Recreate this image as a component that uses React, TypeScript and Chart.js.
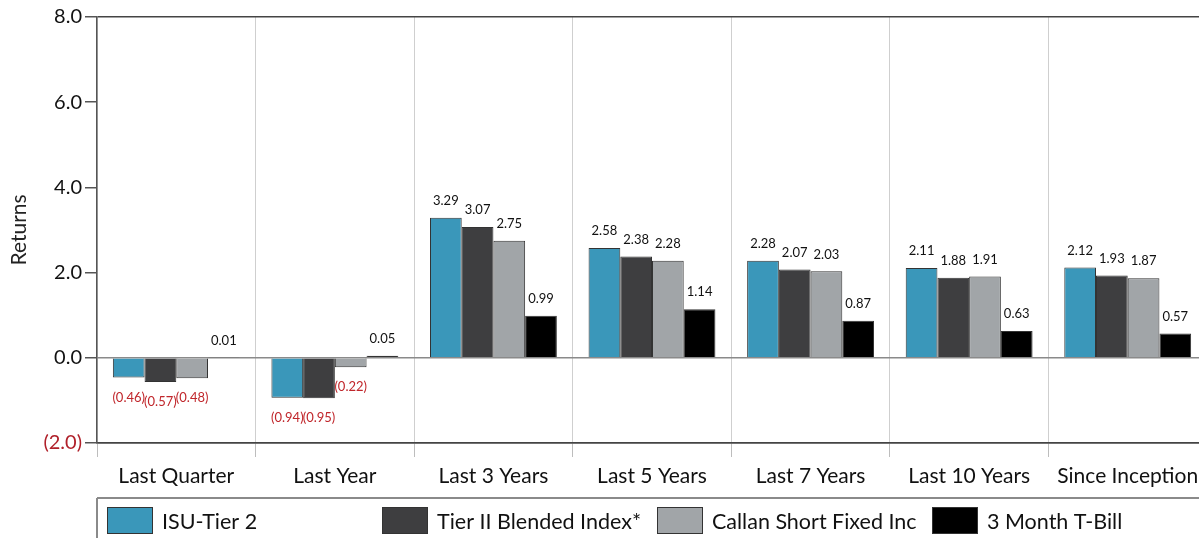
import React, { useEffect, useRef } from "react";
import { Chart, registerables } from "chart.js";

Chart.register(...registerables);

const categories = ["Last Quarter", "Last Year", "Last 3 Years", "Last 5 Years", "Last 7 Years", "Last 10 Years", "Since Inception"];
const seriesNames = ["ISU-Tier 2", "Tier II Blended Index*", "Callan Short Fixed Inc", "3 Month T-Bill"];
const isuTier2 = [-0.46, -0.94, 3.29, 2.58, 2.28, 2.11, 2.12];
const tier2Blended = [-0.57, -0.95, 3.07, 2.38, 2.07, 1.88, 1.93];
const callanShort = [-0.48, -0.22, 2.75, 2.28, 2.03, 1.91, 1.87];
const tBill = [0.01, 0.05, 0.99, 1.14, 0.87, 0.63, 0.57];
const seriesColors = ["#3a97ba", "#3e3e40", "#a1a5a8", "#000000"];
const yMin = -2;
const yMax = 8;
const yStep = 2;

// legend layout (pixels)
const legendStartX = 107;
const legendSpacing = 275;
const legendSwatchW = 46;
const FONT = "Lato, 'Open Sans', sans-serif";

const fmt = (v: number, d: number) => (v < 0 ? `(${Math.abs(v).toFixed(d)})` : v.toFixed(d));

export default function App() {
  const ref = useRef<HTMLCanvasElement | null>(null);
  useEffect(() => {
    document.body.style.margin = "0";
    document.body.style.overflow = "hidden";
    const canvas = ref.current!;
    const labelPlugin = {
      id: "barLabels",
      afterDatasetsDraw(chart: any) {
        const ctx = chart.ctx;
        ctx.save();
        ctx.font = `13px ${FONT}`;
        ctx.textAlign = "center";
        ctx.textBaseline = "middle";
        chart.data.datasets.forEach((ds: any, di: number) => {
          const meta = chart.getDatasetMeta(di);
          meta.data.forEach((el: any, i: number) => {
            const v = ds.data[i] as number;
            if (v < 0) {
              ctx.fillStyle = "#c0262b";
              ctx.fillText(fmt(v, 2), el.x, el.y + 20);
            } else {
              ctx.fillStyle = "#111";
              ctx.fillText(fmt(v, 2), el.x, el.y - 17);
            }
          });
        });
        ctx.restore();
      },
    };
    const legendPlugin = {
      id: "boxLegend",
      afterDraw(chart: any) {
        const ctx = chart.ctx;
        const left = chart.chartArea.left;
        const top = 498;
        ctx.save();
        ctx.strokeStyle = "#8a8a8a";
        ctx.lineWidth = 2;
        ctx.beginPath();
        ctx.moveTo(left, top);
        ctx.lineTo(chart.width, top);
        ctx.moveTo(left, top);
        ctx.lineTo(left, chart.height);
        ctx.stroke();
        ctx.font = `21.5px ${FONT}`;
        ctx.textBaseline = "middle";
        ctx.textAlign = "left";
        seriesNames.forEach((name, i) => {
          const x = legendStartX + i * legendSpacing;
          ctx.fillStyle = seriesColors[i];
          ctx.fillRect(x, 507, legendSwatchW, 27);
          ctx.strokeStyle = "#333";
          ctx.lineWidth = 1;
          ctx.strokeRect(x + 0.5, 507.5, legendSwatchW - 1, 26);
          ctx.fillStyle = "#111";
          ctx.fillText(name, x + legendSwatchW + 9, 522);
        });
        ctx.restore();
      },
    };
    const chart = new Chart(canvas, {
      type: "bar",
      data: {
        labels: categories,
        datasets: [isuTier2, tier2Blended, callanShort, tBill].map((d, i) => ({
          label: seriesNames[i],
          data: d,
          backgroundColor: seriesColors[i],
          borderColor: "#333",
          borderWidth: 1,
          categoryPercentage: 0.8,
          barPercentage: 1.0,
        })),
      },
      options: {
        responsive: false,
        animation: false,
        devicePixelRatio: 1,
        layout: { padding: { top: 17, bottom: 39, left: 0, right: 0 } },
        plugins: { legend: { display: false }, tooltip: { enabled: false } },
        scales: {
          x: {
            afterFit: (s: any) => { s.height = 56; },
            grid: { offset: true, color: "#cfcfcf", tickLength: 14, tickColor: "#bdbdbd", lineWidth: 1 },
            border: { display: true, color: "#444", width: 1.5 },
            ticks: { color: "#111", font: { family: FONT, size: 21 }, padding: 7, maxRotation: 0, autoSkip: false },
          },
          y: {
            min: yMin,
            max: yMax,
            afterFit: (s: any) => { s.width = 97; },
            grid: {
              color: (c: any) => (c.tick && (c.tick.value === yMax || c.tick.value === yMin) ? "#444" : c.tick && c.tick.value === 0 ? "#8a8a8a" : "rgba(0,0,0,0)"),
              lineWidth: 1.5,
              tickLength: 12,
              tickColor: "#555",
            },
            border: { display: true, color: "#555", width: 1.5 },
            ticks: {
              stepSize: yStep,
              padding: 3,
              color: (c: any) => (c.tick && c.tick.value < 0 ? "#b0202a" : "#111"),
              font: { family: FONT, size: 20 },
              callback: (v: any) => fmt(Number(v), 1),
            },
            title: { display: true, text: "Returns", color: "#222", font: { family: FONT, size: 21 }, padding: { top: 7, bottom: 0 } },
          },
        },
      },
      plugins: [labelPlugin, legendPlugin],
    });
    return () => chart.destroy();
  }, []);
  return (
    <div style={{ width: 1207, height: 538, overflow: "hidden" }}>
      <canvas ref={ref} width={1207} height={538} style={{ display: "block" }} />
    </div>
  );
}
